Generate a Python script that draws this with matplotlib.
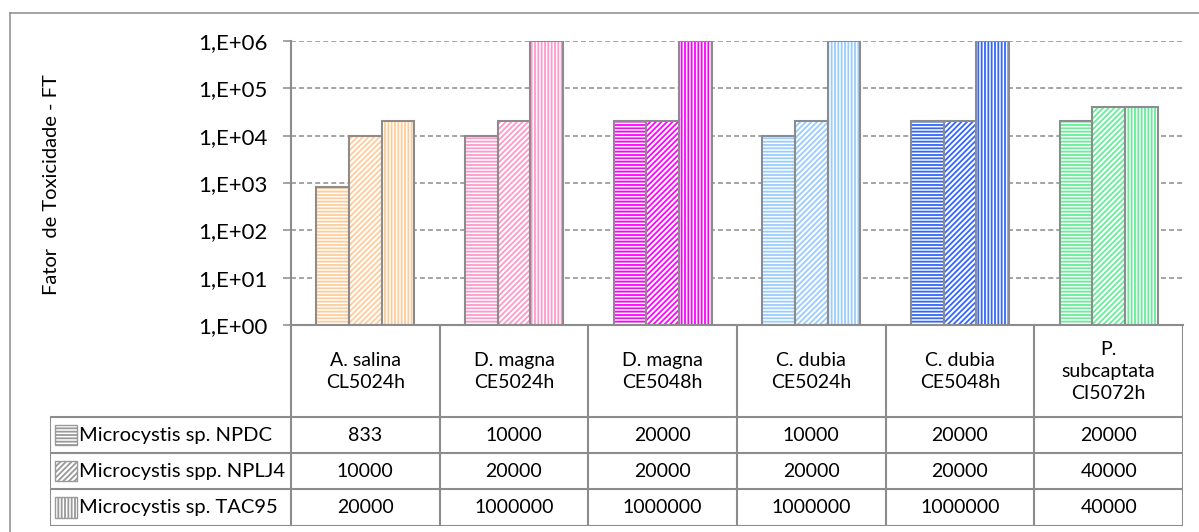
import matplotlib.pyplot as plt
import numpy as np
from matplotlib.lines import Line2D
from matplotlib.patches import Rectangle
from matplotlib.ticker import FixedLocator, FuncFormatter, NullLocator

plt.rcParams['font.family'] = ['Lato', 'DejaVu Sans']
plt.rcParams['hatch.linewidth'] = 1.3
plt.rcParams['lines.scale_dashes'] = False

categories = [
    'A. salina\nCL5024h',
    'D. magna\nCE5024h',
    'D. magna\nCE5048h',
    'C. dubia\nCE5024h',
    'C. dubia\nCE5048h',
    'P.\nsubcaptata\nCI5072h',
]
series_names = ['Microcystis sp. NPDC', 'Microcystis spp. NPLJ4', 'Microcystis sp. TAC95']
npdc = [833, 10000, 20000, 10000, 20000, 20000]
nplj4 = [10000, 20000, 20000, 20000, 20000, 40000]
tac95 = [20000, 1000000, 1000000, 1000000, 1000000, 40000]
series = [npdc, nplj4, tac95]

cat_colors = ['#FFCC99', '#FF99CC', '#FF00FF', '#99CCFF', '#3366FF', '#66EE99']
hatches = ['-----', '//////', '|||||']
grey = '#8C8C8C'
W, H = 1199, 532

fig = plt.figure(figsize=(W / 100, H / 100), dpi=100)

# outer chart border (only left and top visible in frame)
fig.add_artist(Line2D([9.5 / W, 9.5 / W], [0, 1 - 12.5 / H], color=grey, lw=1.1))
fig.add_artist(Line2D([9.5 / W, 1], [1 - 12.5 / H, 1 - 12.5 / H], color=grey, lw=1.1))

# bar chart
ax = fig.add_axes([291 / W, 1 - 325 / H, (1183 - 291) / W, (325 - 41) / H])
ax.set_yscale('log')
ax.set_ylim(1, 1e6)
ax.set_xlim(0, len(categories))

x = np.arange(len(categories)) + 0.5
bw = 0.22
for k, vals in enumerate(series):
    pos = x + (k - 1) * bw
    vals = np.array(vals, dtype=float)
    ax.bar(pos, vals - 1, bottom=1, width=bw, facecolor='white',
           edgecolor=cat_colors, hatch=hatches[k], linewidth=0, zorder=2)
    ax.bar(pos, vals - 1, bottom=1, width=bw, fill=False,
           edgecolor=grey, linewidth=1.5, zorder=3)

ax.yaxis.set_major_locator(FixedLocator([10.0 ** e for e in range(7)]))
ax.yaxis.set_minor_locator(NullLocator())
ax.yaxis.set_major_formatter(FuncFormatter(lambda v, p: '1,E+%02d' % round(np.log10(v))))
ax.tick_params(axis='y', direction='out', length=6, width=1.1, color=grey,
               labelsize=16, pad=11)
ax.tick_params(axis='x', bottom=False, labelbottom=False)
ax.yaxis.grid(True, color=grey, lw=1.1, ls=(0, (3.6, 2.2)))
ax.set_axisbelow(True)
for s in ['top', 'right']:
    ax.spines[s].set_visible(False)
for s in ['left', 'bottom']:
    ax.spines[s].set_color(grey)
    ax.spines[s].set_linewidth(1.5)

fig.text(52 / W, 1 - 185 / H, 'Fator  de Toxicidade - FT', rotation=90,
         ha='center', va='center', fontsize=14.5)

# data table
label_w = 241 / 148.67
header_h = 92 / 36
n = len(categories)
tax = fig.add_axes([50 / W, 1 - 525.5 / H, (1183 - 50) / W, (525.5 - 325) / H])
tax.set_xlim(-label_w, n)
tax.set_ylim(header_h + 3, 0)
tax.axis('off')

for c in range(n + 1):
    tax.plot([c, c], [0, header_h + 3], color=grey, lw=1.5, solid_capstyle='butt')
tax.plot([-label_w, -label_w], [header_h, header_h + 3], color=grey, lw=1.5)
for r in range(4):
    tax.plot([-label_w, n], [header_h + r] * 2, color=grey, lw=1.5)

for c, name in enumerate(categories):
    tax.text(c + 0.5, header_h / 2, name, ha='center', va='center',
             fontsize=14, linespacing=1.35)

for r, (name, vals) in enumerate(zip(series_names, series)):
    yc = header_h + r + 0.5
    tax.add_patch(Rectangle((-label_w + 0.034, yc - 0.28), 0.148, 0.56,
                            facecolor='white', edgecolor='#999999',
                            hatch=hatches[r], lw=1.0))
    tax.text(-label_w + 0.195, yc, name, ha='left', va='center', fontsize=14.5)
    for c, v in enumerate(vals):
        tax.text(c + 0.5, yc, str(v), ha='center', va='center', fontsize=14)

fig.savefig('out.png', dpi=100)
